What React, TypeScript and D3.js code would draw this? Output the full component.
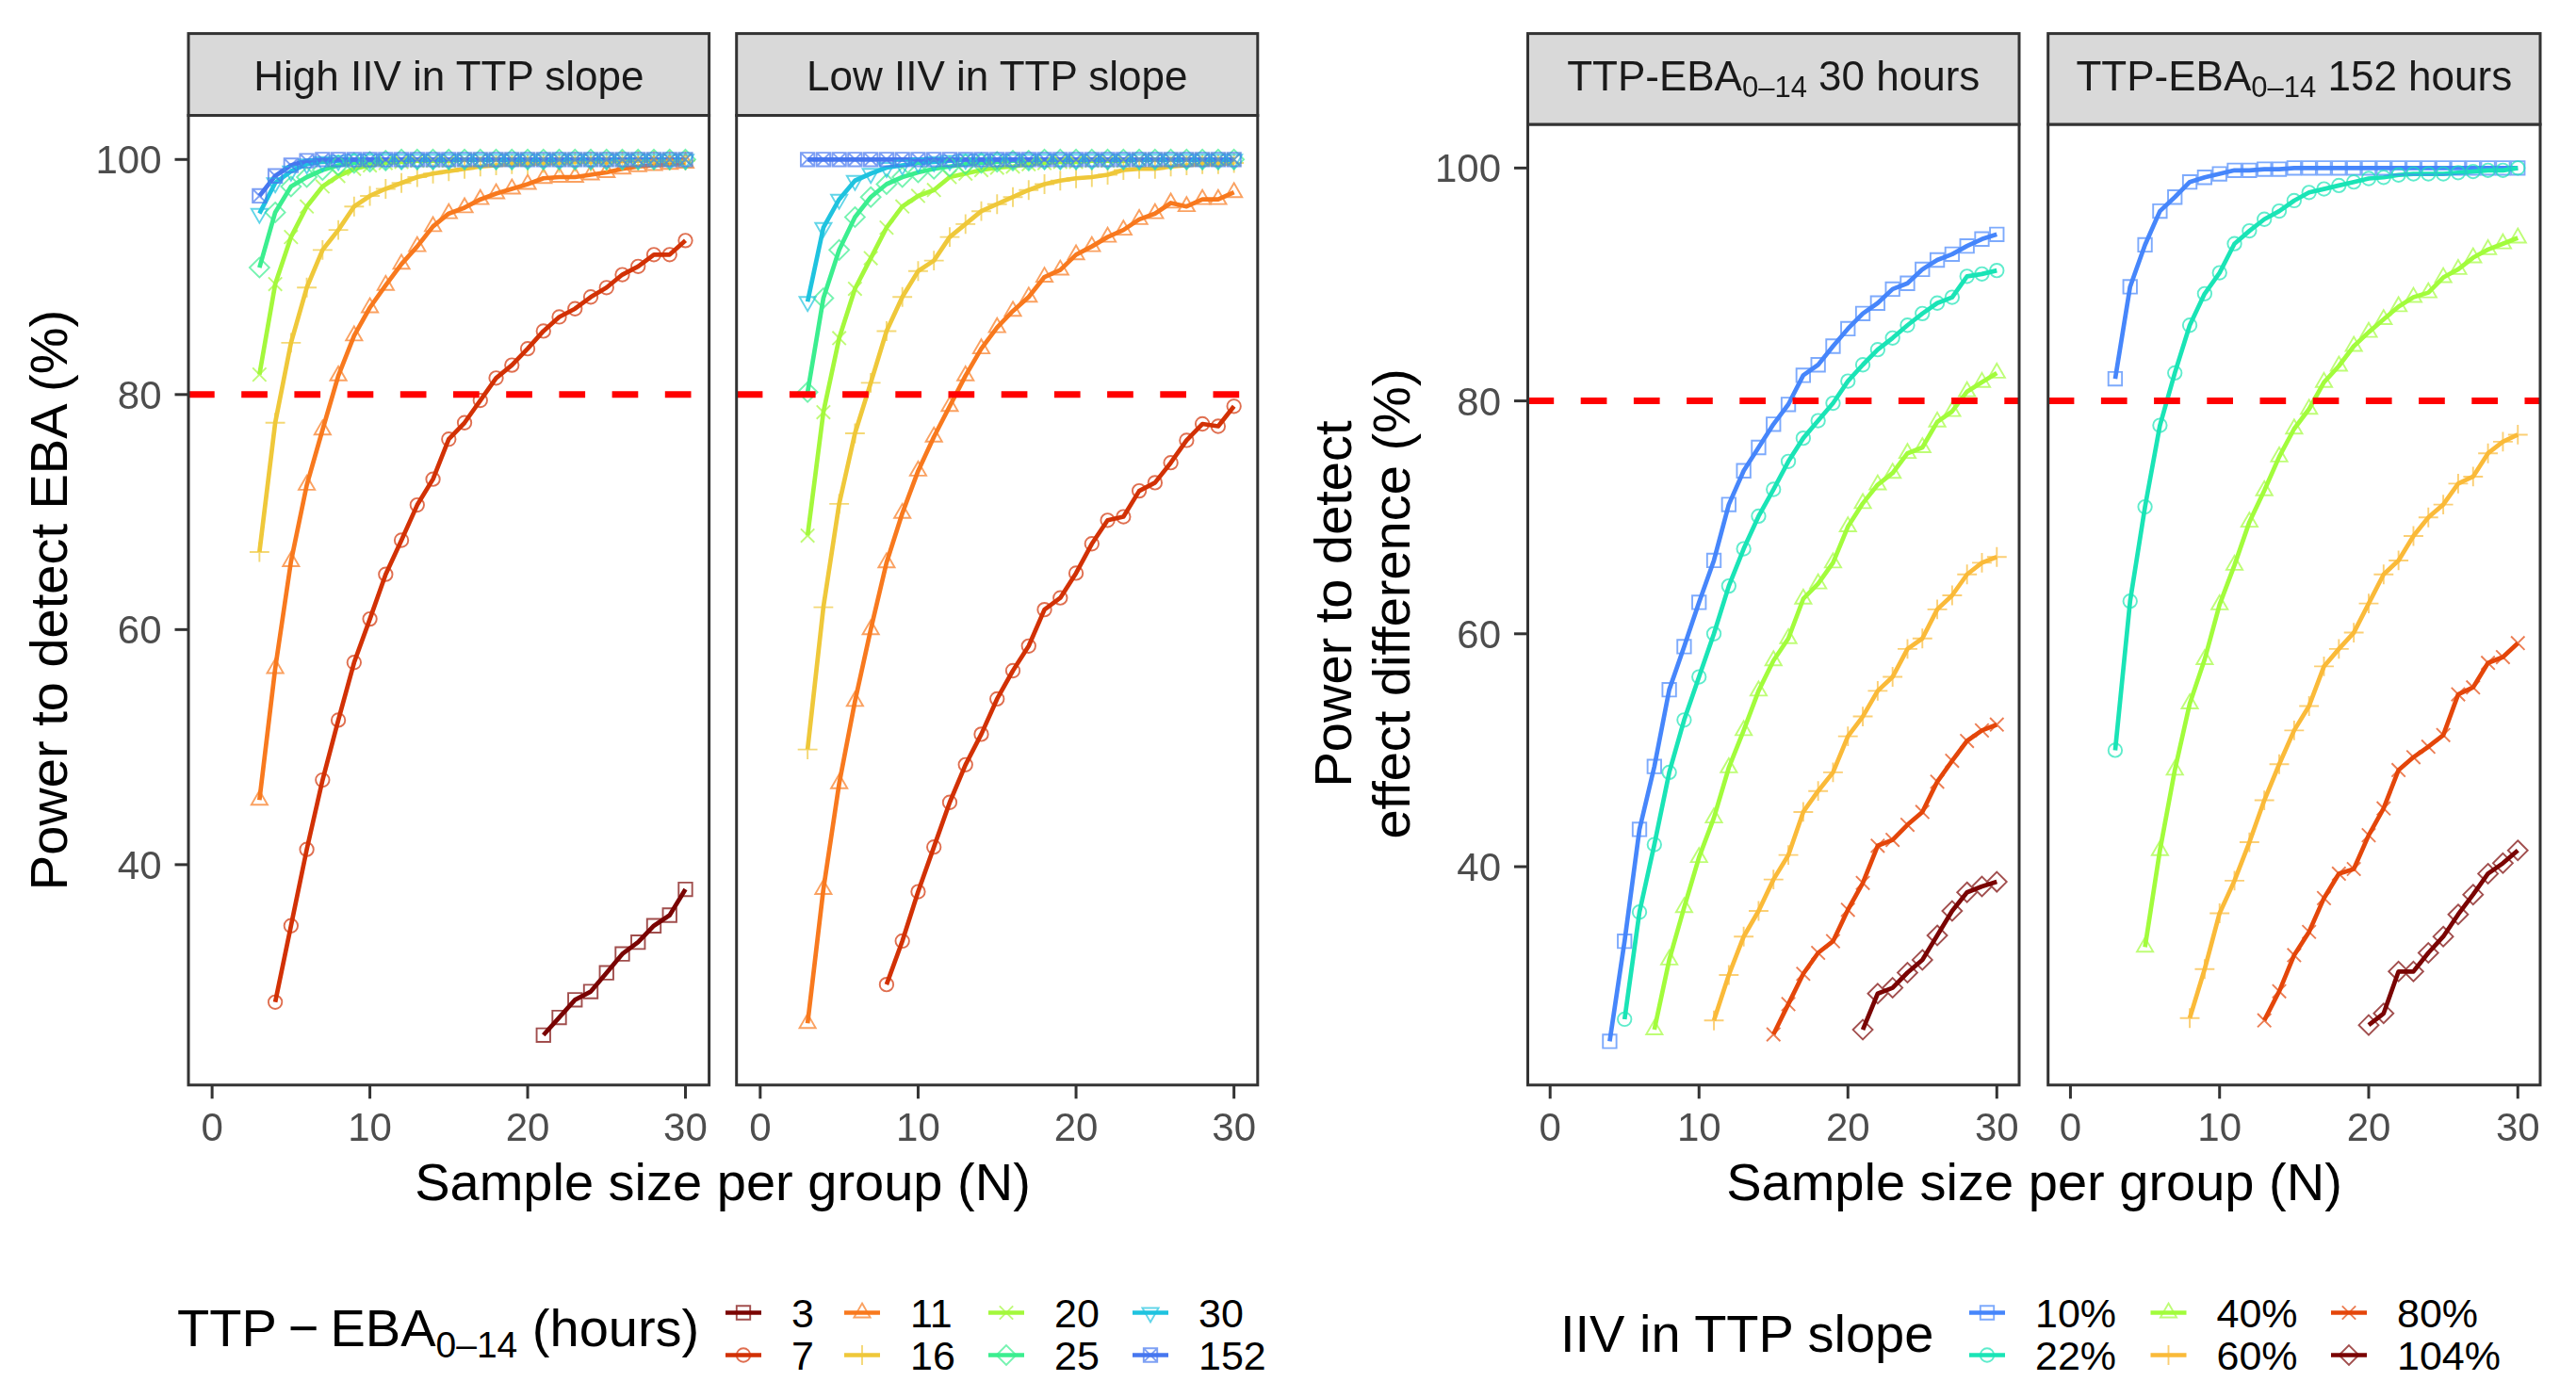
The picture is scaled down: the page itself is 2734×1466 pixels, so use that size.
import React from 'react';
import * as d3 from 'd3';

// sample size per group (x values)
const sampleSizes = [3, 4, 5, 6, 7, 8, 9, 10, 11, 12, 13, 14, 15, 16, 17, 18, 19, 20, 21, 22, 23, 24, 25, 26, 27, 28, 29, 30];
const xTicks = [0, 10, 20, 30];
const yTicks = [40, 60, 80, 100];
const targetPower = 80;

// ---- left: power to detect EBA, by TTP-EBA0-14 (hours)
const hourLevels = ['3', '7', '11', '16', '20', '25', '30', '152'];
const hourColors = ['#7A0403', '#D23105', '#F8791E', '#EFC83A', '#A4F83C', '#3BEE8F', '#1FC3DF', '#4777EF'];
const hourShapes = ['square', 'circle', 'triangle', 'plus', 'cross', 'diamond', 'triangleDown', 'squareCross'];

// High IIV in TTP slope
const highStart = [21, 4, 3, 3, 3, 3, 3, 3];
const high3 = [25.5, 27.0, 28.5, 29.2, 30.8, 32.4, 33.4, 34.8, 35.7, 37.9];
const high7 = [28.3, 34.8, 41.3, 47.2, 52.3, 57.2, 60.9, 64.7, 67.6, 70.6, 72.8, 76.2, 77.6, 79.5, 81.4, 82.5, 83.9, 85.4, 86.6, 87.3, 88.3, 89.1, 90.2, 90.9, 91.9, 91.9, 93.1];
const high11 = [45.5, 56.7, 65.8, 72.3, 77.0, 81.6, 85.0, 87.4, 89.3, 91.1, 92.6, 94.3, 95.4, 95.9, 96.6, 97.1, 97.5, 97.9, 98.4, 98.5, 98.5, 98.7, 98.9, 99.2, 99.4, 99.5, 99.6, 99.7];
const high16 = [66.6, 77.6, 84.4, 89.1, 92.3, 94.0, 96.0, 96.9, 97.5, 98.0, 98.5, 98.8, 99.0, 99.2, 99.4, 99.5, 99.6, 99.6, 99.7, 99.7, 99.8, 99.8, 99.8, 99.9, 99.9, 99.9, 99.9, 99.9];
const high20 = [81.7, 89.4, 93.4, 96.0, 97.7, 98.6, 99.2, 99.5, 99.7, 99.8, 99.9, 99.9, 99.9, 100, 100, 100, 100, 100, 100, 100, 100, 100, 100, 100, 100, 100, 100, 100];
const high25 = [90.8, 95.5, 97.7, 98.5, 99.1, 99.5, 99.7, 99.8, 99.9, 100, 100, 100, 100, 100, 100, 100, 100, 100, 100, 100, 100, 100, 100, 100, 100, 100, 100, 100];
const high30 = [95.4, 98.0, 99.0, 99.6, 99.8, 99.9, 100, 100, 100, 100, 100, 100, 100, 100, 100, 100, 100, 100, 100, 100, 100, 100, 100, 100, 100, 100, 100, 100];
const high152 = [96.9, 98.6, 99.5, 99.9, 100, 100, 100, 100, 100, 100, 100, 100, 100, 100, 100, 100, 100, 100, 100, 100, 100, 100, 100, 100, 100, 100, 100, 100];

// Low IIV in TTP slope (3 hours never reaches the plotted range)
const lowStart = [0, 8, 3, 3, 3, 3, 3, 3];
const low3: number[] = [];
const low7 = [29.8, 33.5, 37.7, 41.5, 45.3, 48.5, 51.1, 54.1, 56.5, 58.6, 61.7, 62.7, 64.8, 67.3, 69.3, 69.6, 71.8, 72.5, 74.2, 76.1, 77.5, 77.3, 79.0];
const low11 = [26.5, 37.9, 46.9, 53.9, 60.0, 65.7, 69.9, 73.5, 76.4, 79.0, 81.6, 83.9, 85.7, 87.1, 88.3, 90.0, 90.6, 91.9, 92.6, 93.4, 94.0, 94.9, 95.4, 96.3, 96.0, 96.6, 96.6, 97.2];
const low16 = [49.8, 61.9, 70.7, 76.7, 81.0, 85.4, 88.3, 90.5, 91.4, 93.4, 94.5, 95.6, 96.2, 96.8, 97.4, 97.9, 98.2, 98.4, 98.5, 98.7, 99.1, 99.2, 99.2, 99.4, 99.5, 99.6, 99.6, 99.7];
const low20 = [68.0, 78.5, 84.8, 89.0, 91.6, 94.2, 96.0, 96.9, 97.4, 98.5, 98.8, 99.1, 99.3, 99.4, 99.6, 99.7, 99.8, 99.8, 99.9, 99.9, 99.9, 100, 100, 100, 100, 100, 100, 100];
const low25 = [80.2, 88.2, 92.3, 95.1, 96.8, 97.9, 98.5, 98.9, 99.2, 99.4, 99.6, 99.7, 99.8, 99.9, 99.9, 100, 100, 100, 100, 100, 100, 100, 100, 100, 100, 100, 100, 100];
const low30 = [87.9, 94.2, 96.6, 98.2, 98.8, 99.3, 99.5, 99.7, 99.8, 99.9, 100, 100, 100, 100, 100, 100, 100, 100, 100, 100, 100, 100, 100, 100, 100, 100, 100, 100];
const low152 = [100, 100, 100, 100, 100, 100, 100, 100, 100, 100, 100, 100, 100, 100, 100, 100, 100, 100, 100, 100, 100, 100, 100, 100, 100, 100, 100, 100];

// ---- right: power to detect effect difference, by IIV in TTP slope
const iivLevels = ['10%', '22%', '40%', '60%', '80%', '104%'];
const iivColors = ['#4686FB', '#1AE4B6', '#A2FC3C', '#FABA39', '#E4460A', '#7A0403'];
const iivShapes = ['square', 'circle', 'triangle', 'plus', 'cross', 'diamond'];

// TTP-EBA0-14 30 hours
const h30Start = [4, 5, 7, 11, 15, 21];
const h30_10 = [25.0, 33.6, 43.2, 48.6, 55.2, 58.9, 62.7, 66.3, 71.1, 74.0, 76.0, 78.0, 79.7, 82.2, 83.1, 84.7, 86.2, 87.5, 88.4, 89.6, 90.1, 91.3, 92.1, 92.6, 93.3, 93.9, 94.3];
const h30_22 = [26.9, 36.1, 41.9, 48.1, 52.6, 56.3, 60.0, 64.1, 67.3, 70.1, 72.4, 74.8, 76.8, 78.3, 79.8, 81.7, 83.1, 84.4, 85.4, 86.5, 87.5, 88.4, 88.9, 90.7, 90.9, 91.2];
const h30_40 = [26.0, 32.0, 36.5, 40.8, 44.2, 48.5, 51.7, 55.1, 57.7, 59.6, 63.0, 64.3, 66.1, 69.2, 71.2, 72.8, 73.8, 75.5, 76.0, 78.2, 79.1, 80.8, 81.6, 82.4];
const h30_60 = [26.8, 30.7, 34.0, 36.2, 38.9, 41.0, 44.7, 46.5, 48.1, 51.2, 52.9, 55.1, 56.3, 58.7, 59.6, 62.1, 63.3, 65.1, 66.1, 66.6];
const h30_80 = [25.6, 28.2, 30.8, 32.6, 33.6, 36.3, 38.6, 41.8, 42.3, 43.6, 44.7, 47.3, 49.1, 50.8, 51.7, 52.2];
const h30_104 = [26.0, 29.1, 29.6, 30.9, 32.0, 34.1, 36.2, 37.8, 38.3, 38.7];

// TTP-EBA0-14 152 hours
const h152Start = [3, 3, 5, 8, 13, 20];
const h152_10 = [81.9, 89.8, 93.4, 96.3, 97.5, 98.8, 99.2, 99.5, 99.8, 99.8, 99.9, 99.9, 100, 100, 100, 100, 100, 100, 100, 100, 100, 100, 100, 100, 100, 100, 100, 100];
const h152_22 = [50.0, 62.8, 70.9, 77.9, 82.4, 86.5, 89.2, 91.0, 93.5, 94.6, 95.6, 96.3, 97.2, 97.9, 98.2, 98.5, 98.8, 99.1, 99.2, 99.4, 99.5, 99.5, 99.5, 99.6, 99.7, 99.8, 99.8, 100];
const h152_40 = [33.1, 41.4, 48.3, 54.0, 57.8, 62.5, 65.9, 69.6, 72.3, 75.2, 77.6, 79.3, 81.6, 83.0, 84.7, 85.9, 87.0, 88.1, 88.9, 89.3, 90.6, 91.3, 92.3, 93.0, 93.5, 94.0];
const h152_60 = [27.0, 31.2, 36.0, 38.8, 42.1, 45.7, 48.8, 51.7, 53.8, 57.2, 58.7, 60.1, 62.6, 65.1, 66.3, 68.4, 70.0, 71.1, 72.9, 73.5, 75.5, 76.5, 77.1];
const h152_80 = [26.8, 29.3, 32.4, 34.4, 37.3, 39.4, 39.8, 42.7, 45.0, 48.3, 49.4, 50.3, 51.3, 54.8, 55.4, 57.5, 58.0, 59.2];
const h152_104 = [26.4, 27.4, 31.0, 31.0, 32.6, 34.0, 35.9, 37.6, 39.4, 40.3, 41.4];

const FONT = '"Liberation Sans", Arial, Helvetica, sans-serif';
const DARK = '#333333';

type Pt = { n: number; v: number };
type Series = { pts: Pt[]; color: string; shape: string };

function makeSeries(values: number[][], starts: number[], colors: string[], shapes: string[]): Series[] {
  return values.map((vals, k) => {
    const i0 = sampleSizes.indexOf(starts[k]);
    return { pts: vals.map((v, i) => ({ n: sampleSizes[i0 + i], v })), color: colors[k], shape: shapes[k] };
  });
}

function shapePath(shape: string, r: number): string {
  const d = r * 1.45;
  const t = r * 1.38;
  const sq = `M${-r},${-r}H${r}V${r}H${-r}Z`;
  const x = `M${-r},${-r}L${r},${r}M${-r},${r}L${r},${-r}`;
  switch (shape) {
    case 'square': return sq;
    case 'circle': return `M${r},0A${r},${r} 0 1,1 ${-r},0A${r},${r} 0 1,1 ${r},0Z`;
    case 'triangle': return `M0,${-t}L${t * 0.866},${t * 0.5}L${-t * 0.866},${t * 0.5}Z`;
    case 'triangleDown': return `M0,${t}L${t * 0.866},${-t * 0.5}L${-t * 0.866},${-t * 0.5}Z`;
    case 'plus': return `M${-d},0H${d}M0,${-d}V${d}`;
    case 'cross': return x;
    case 'diamond': return `M0,${-d}L${d},0L0,${d}L${-d},0Z`;
    default: return sq + x;
  }
}

const PT_R = 7.2;
const LINE_W = 4.7;

function Panel(props: {
  left: number; right: number; top: number; bottom: number; stripTop: number;
  label: React.ReactNode; series: Series[]; yAxis: boolean;
}) {
  const { left, right, top, bottom, stripTop, label, series, yAxis } = props;
  const x = d3.scaleLinear().domain([-1.5, 31.5]).range([left, right]);
  const y = d3.scaleLinear().domain([21.25, 103.75]).range([bottom, top]);
  const line = d3.line<Pt>().x(d => x(d.n)).y(d => y(d.v));
  const cx = (left + right) / 2;
  return (
    <g>
      {series.map((s, i) => (
        <path key={'l' + i} d={line(s.pts) || ''} fill="none" stroke={s.color} strokeWidth={LINE_W} strokeLinejoin="round" />
      ))}
      {series.map((s, i) => (
        <g key={'p' + i} opacity={0.7}>
          {s.pts.map((p, j) => (
            <path key={j} transform={`translate(${x(p.n)},${y(p.v)})`} d={shapePath(s.shape, PT_R)}
              fill="none" stroke={s.color} strokeWidth={1.9} />
          ))}
        </g>
      ))}
      <line x1={left} x2={right} y1={y(targetPower)} y2={y(targetPower)} stroke="#FF0000" strokeWidth={7} strokeDasharray="27.7 28.5" />
      <rect x={left} y={top} width={right - left} height={bottom - top} fill="none" stroke={DARK} strokeWidth={3} />
      <rect x={left} y={stripTop} width={right - left} height={top - stripTop} fill="#D9D9D9" stroke={DARK} strokeWidth={3} />
      <text x={cx} y={95.7} textAnchor="middle" fontSize={44} fill="#1A1A1A" fontFamily={FONT}>{label}</text>
      {xTicks.map(t => (
        <g key={'x' + t}>
          <line x1={x(t)} x2={x(t)} y1={bottom} y2={bottom + 14.5} stroke={DARK} strokeWidth={3} />
          <text x={x(t)} y={1211} textAnchor="middle" fontSize={42} fill="#4D4D4D" fontFamily={FONT}>{t}</text>
        </g>
      ))}
      {yAxis && yTicks.map(t => (
        <g key={'y' + t}>
          <line x1={left - 14.5} x2={left} y1={y(t)} y2={y(t)} stroke={DARK} strokeWidth={3} />
          <text x={left - 28.5} y={y(t)} dy="0.36em" textAnchor="end" fontSize={42} fill="#4D4D4D" fontFamily={FONT}>{t}</text>
        </g>
      ))}
    </g>
  );
}

function Legend(props: {
  levels: string[]; colors: string[]; shapes: string[];
  keyX: number[]; rowY: number[];
}) {
  const { levels, colors, shapes, keyX, rowY } = props;
  return (
    <g>
      {levels.map((lv, i) => {
        const kx = keyX[Math.floor(i / 2)];
        const ky = rowY[i % 2];
        return (
          <g key={lv}>
            <line x1={kx - 19} x2={kx + 19} y1={ky} y2={ky} stroke={colors[i]} strokeWidth={LINE_W} />
            <path transform={`translate(${kx},${ky})`} d={shapePath(shapes[i], PT_R)} fill="none" stroke={colors[i]} strokeWidth={1.9} opacity={0.7} />
            <text x={kx + 51} y={ky + 15.5} fontSize={43} fill="#000" fontFamily={FONT}>{lv}</text>
          </g>
        );
      })}
    </g>
  );
}

function SubLabel(props: { pre: string; post: string; size: number; subSize: number; shift: number }) {
  const { pre, post, size, subSize, shift } = props;
  return (
    <>
      <tspan>{pre}</tspan>
      <tspan fontSize={subSize} dy={shift}>0–14</tspan>
      <tspan fontSize={size} dy={-shift}>{post}</tspan>
    </>
  );
}

export default function App() {
  const highSeries = makeSeries([high3, high7, high11, high16, high20, high25, high30, high152], highStart, hourColors, hourShapes)
    .filter(s => s.pts.length > 0);
  const lowSeries = makeSeries([low3, low7, low11, low16, low20, low25, low30, low152], lowStart, hourColors, hourShapes)
    .filter(s => s.pts.length > 0);
  const h30Series = makeSeries([h30_10, h30_22, h30_40, h30_60, h30_80, h30_104], h30Start, iivColors, iivShapes);
  const h152Series = makeSeries([h152_10, h152_22, h152_40, h152_60, h152_80, h152_104], h152Start, iivColors, iivShapes);

  return (
    <svg width={2734} height={1466} style={{ position: 'absolute', left: 0, top: 0, background: '#fff' }}>
      <rect width={2734} height={1466} fill="#fff" />
      <Panel left={200} right={752.6} top={122.5} bottom={1151.8} stripTop={35.6} label="High IIV in TTP slope" series={highSeries} yAxis />
      <Panel left={781.7} right={1334.8} top={122.5} bottom={1151.8} stripTop={35.6} label="Low IIV in TTP slope" series={lowSeries} yAxis={false} />
      <Panel left={1621.5} right={2143} top={132} bottom={1151.8} stripTop={35.6}
        label={<SubLabel pre="TTP-EBA" post=" 30 hours" size={44} subSize={31} shift={7} />} series={h30Series} yAxis />
      <Panel left={2173.7} right={2696} top={132} bottom={1151.8} stripTop={35.6}
        label={<SubLabel pre="TTP-EBA" post=" 152 hours" size={44} subSize={31} shift={7} />} series={h152Series} yAxis={false} />

      {/* axis titles */}
      <text x={767} y={1274} textAnchor="middle" fontSize={56} fontFamily={FONT}>Sample size per group (N)</text>
      <text x={2159} y={1274} textAnchor="middle" fontSize={56} fontFamily={FONT}>Sample size per group (N)</text>
      <text transform="translate(71,637) rotate(-90)" textAnchor="middle" fontSize={56} fontFamily={FONT}>Power to detect EBA (%)</text>
      <text transform="translate(1434,641) rotate(-90)" textAnchor="middle" fontSize={56} fontFamily={FONT}>Power to detect</text>
      <text transform="translate(1496,641) rotate(-90)" textAnchor="middle" fontSize={56} fontFamily={FONT}>effect difference (%)</text>

      {/* legends */}
      <text x={188} y={1429} fontSize={56} fontFamily={FONT}>
        <tspan>TTP</tspan>
        <tspan dx={12}>−</tspan>
        <tspan dx={12}>EBA</tspan>
        <tspan fontSize={39} dy={12}>0–14</tspan>
        <tspan fontSize={56} dy={-12}> (hours)</tspan>
      </text>
      <Legend levels={hourLevels} colors={hourColors} shapes={hourShapes} keyX={[789, 915, 1068, 1221]} rowY={[1393.5, 1438.5]} />
      <text x={1656} y={1435} fontSize={56} fontFamily={FONT}>IIV in TTP slope</text>
      <Legend levels={iivLevels} colors={iivColors} shapes={iivShapes} keyX={[2109, 2301.5, 2493]} rowY={[1393.5, 1438.5]} />
    </svg>
  );
}
